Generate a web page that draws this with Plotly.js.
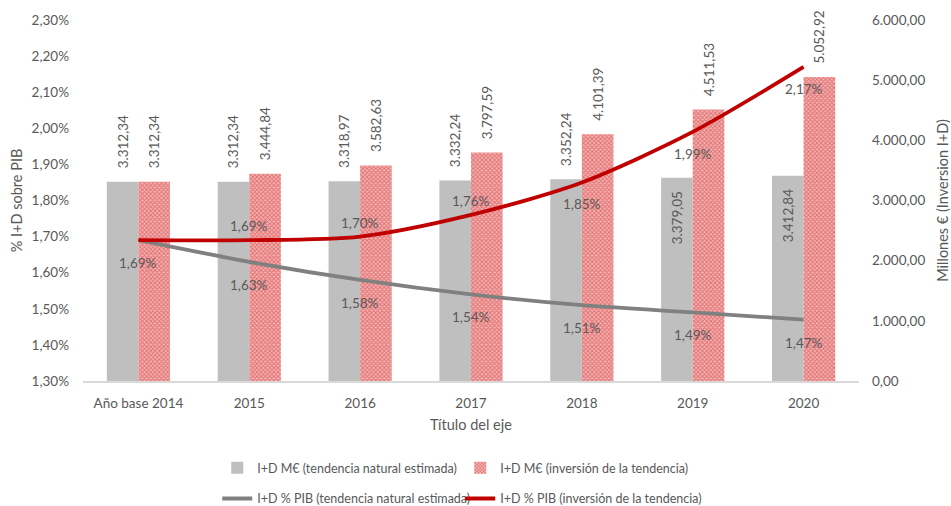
<!DOCTYPE html>
<html>
<head>
<meta charset="utf-8">
<script src="https://cdn.plot.ly/plotly-3.0.1.min.js"></script>
<style>html,body{margin:0;padding:0;background:#fff}#chart{width:951px;height:506px}</style>
</head>
<body>
<div id="chart"></div>
<script>
const categories = ["Año base 2014", "2015", "2016", "2017", "2018", "2019", "2020"];
const barNatural = [3312.34, 3312.34, 3318.97, 3332.24, 3352.24, 3379.05, 3412.84];
const barInversion = [3312.34, 3444.84, 3582.63, 3797.59, 4101.39, 4511.53, 5052.92];
const pctNatural = [0.0169, 0.0163, 0.0158, 0.0154, 0.0151, 0.0149, 0.0147];
const pctInversion = [0.0169, 0.0169, 0.0170, 0.0176, 0.0185, 0.0199, 0.0217];
const naturalBarLabelPos = ["outside", "outside", "outside", "outside", "outside", "inside", "inside"];
const inversionLabelSide = ["none", "above", "above", "above", "below", "below", "below"];

const fontFam = "Lato, 'Open Sans', sans-serif";
const txtColor = "#595959";
const pad = "\u00A0\u00A0\u00A0";
const padIn = "\u00A0\u00A0\u00A0";

const traces = [
  {
    type: "bar", name: "I+D M€ (tendencia natural estimada)", legend: "legend",
    x: categories, y: barNatural, yaxis: "y",
    marker: {color: "#BFBFBF"},
    texttemplate: naturalBarLabelPos.map(p => p === "outside" ? pad + "%{y:,.2f}" : "%{y:,.2f}" + padIn),
    textposition: naturalBarLabelPos, textangle: -90,
    outsidetextfont: {family: fontFam, size: 13.5, color: txtColor},
    insidetextfont: {family: fontFam, size: 13.5, color: txtColor},
    insidetextanchor: "end",
    constraintext: "none", cliponaxis: false, hoverinfo: "skip"
  },
  {
    type: "bar", name: "I+D M€ (inversión de la tendencia)", legend: "legend",
    x: categories, y: barInversion, yaxis: "y",
    marker: {color: "#F2B4B4", pattern: {shape: "x", fgcolor: "#D42A2A", size: 3, solidity: 0.5, fillmode: "overlay"}},
    texttemplate: pad + "%{y:,.2f}", textposition: "outside", textangle: -90,
    outsidetextfont: {family: fontFam, size: 13.5, color: txtColor},
    constraintext: "none", cliponaxis: false, hoverinfo: "skip"
  },
  {
    type: "scatter", mode: "lines", name: "I+D % PIB (tendencia natural estimada)", legend: "legend2",
    x: categories, y: pctNatural, yaxis: "y2",
    line: {color: "#808080", width: 3.8, shape: "spline", smoothing: 0.8}, hoverinfo: "skip"
  },
  {
    type: "scatter", mode: "lines", name: "I+D % PIB (inversión de la tendencia)", legend: "legend2",
    x: categories, y: pctInversion, yaxis: "y2",
    line: {color: "#C00000", width: 3.8, shape: "spline", smoothing: 0.8}, hoverinfo: "skip"
  }
];

const fmtPct = v => (v * 100).toFixed(2).replace(".", ",") + "%";
const annotations = [];
categories.forEach((c, i) => {
  annotations.push({x: i, y: pctNatural[i], xref: "x", yref: "y2", text: fmtPct(pctNatural[i]),
    showarrow: false, yshift: -23, font: {family: fontFam, size: 13.5, color: txtColor}});
  if (inversionLabelSide[i] !== "none") {
    annotations.push({x: i, y: pctInversion[i], xref: "x", yref: "y2", text: fmtPct(pctInversion[i]),
      showarrow: false, yshift: inversionLabelSide[i] === "above" ? 14 : -22,
      font: {family: fontFam, size: 13.5, color: txtColor}});
  }
});

const legendCommon = {
  orientation: "h", xanchor: "left", xref: "paper", yanchor: "top",
  entrywidth: 198, entrywidthmode: "pixels", traceorder: "normal",
  font: {family: fontFam, size: 12.5, color: txtColor}, itemwidth: 30,
  bgcolor: "rgba(0,0,0,0)"
};

const layout = {
  width: 951, height: 506,
  margin: {l: 83, r: 92, t: 20, b: 125, autoexpand: false},
  paper_bgcolor: "#fff", plot_bgcolor: "#fff",
  separators: ",.",
  font: {family: fontFam, size: 13, color: txtColor},
  barmode: "group", bargap: 0.43, bargroupgap: 0,
  showlegend: true,
  xaxis: {
    type: "category", range: [-0.5, categories.length - 0.5], autorange: false,
    showgrid: false, showline: true, linecolor: "#D9D9D9", linewidth: 1.5,
    ticks: "", ticklabelstandoff: 9, tickfont: {family: fontFam, size: 13.5, color: txtColor},
    title: {text: "Título del eje", font: {family: fontFam, size: 14.5, color: txtColor}, standoff: 10}
  },
  yaxis: {
    side: "right", range: [0, 6000], dtick: 1000, tickformat: ",.2f",
    showgrid: false, zeroline: false, showline: false, ticks: "",
    ticklabelstandoff: 12,
    tickfont: {family: fontFam, size: 13.5, color: txtColor},
    title: {text: "Millones € (Inversion I+D)", font: {family: fontFam, size: 14.5, color: txtColor}, standoff: 16}
  },
  yaxis2: {
    overlaying: "y", side: "left", range: [0.013, 0.023], dtick: 0.001, tickformat: ".2%",
    showgrid: false, zeroline: false, showline: false, ticks: "",
    ticklabelstandoff: 13,
    tickfont: {family: fontFam, size: 13.5, color: txtColor},
    title: {text: "% I+D sobre PIB", font: {family: fontFam, size: 14.5, color: txtColor}, standoff: 5}
  },
  legend: Object.assign({}, legendCommon, {x: 0.173, y: -0.2}),
  legend2: Object.assign({}, legendCommon, {x: 0.173, y: -0.285}),
  annotations: annotations
};

Plotly.newPlot("chart", traces, layout, {displayModeBar: false, staticPlot: true});
</script>
</body>
</html>
